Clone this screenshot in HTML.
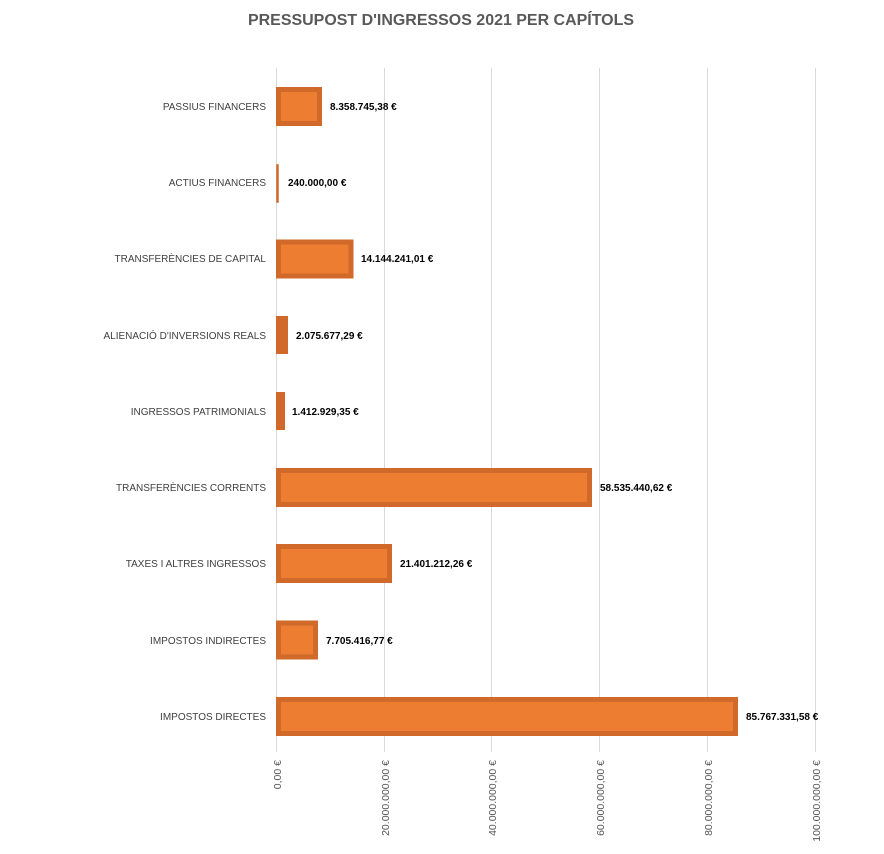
<!DOCTYPE html>
<html><head><meta charset="utf-8"><style>
body{margin:0;background:#fff;}
svg{display:block;font-family:"Liberation Sans",sans-serif;}
</style></head><body>
<svg width="884" height="854" viewBox="0 0 884 854">
<text x="441" y="25" text-anchor="middle" font-size="16" font-weight="bold" fill="#595959" textLength="386" lengthAdjust="spacingAndGlyphs">PRESSUPOST D'INGRESSOS 2021 PER CAPÍTOLS</text>
<g stroke="#d9d9d9" stroke-width="1">
<line x1="276.5" y1="68" x2="276.5" y2="752"/>
<line x1="384.5" y1="68" x2="384.5" y2="752"/>
<line x1="491.5" y1="68" x2="491.5" y2="752"/>
<line x1="599.5" y1="68" x2="599.5" y2="752"/>
<line x1="707.5" y1="68" x2="707.5" y2="752"/>
<line x1="815.5" y1="68" x2="815.5" y2="752"/>
</g>
<g font-size="10.5" fill="#595959">
<text transform="translate(281,760) rotate(-90)" text-anchor="end">0,00 €</text>
<text transform="translate(389,760) rotate(-90)" text-anchor="end">20.000.000,00 €</text>
<text transform="translate(496,760) rotate(-90)" text-anchor="end">40.000.000,00 €</text>
<text transform="translate(604,760) rotate(-90)" text-anchor="end">60.000.000,00 €</text>
<text transform="translate(712,760) rotate(-90)" text-anchor="end">80.000.000,00 €</text>
<text transform="translate(820,760) rotate(-90)" text-anchor="end">100.000.000,00 €</text>
</g>
<g font-size="10" fill="#404040" text-anchor="end">
<text x="266" y="110">PASSIUS FINANCERS</text>
<text x="266" y="186">ACTIUS FINANCERS</text>
<text x="266" y="262">TRANSFERÈNCIES DE CAPITAL</text>
<text x="266" y="339">ALIENACIÓ D'INVERSIONS REALS</text>
<text x="266" y="415">INGRESSOS PATRIMONIALS</text>
<text x="266" y="491">TRANSFERÈNCIES CORRENTS</text>
<text x="266" y="567">TAXES I ALTRES INGRESSOS</text>
<text x="266" y="644">IMPOSTOS INDIRECTES</text>
<text x="266" y="720">IMPOSTOS DIRECTES</text>
</g>
<g fill="#ED7D31" stroke="#D0692A" stroke-width="5">
<rect x="278.5" y="89.5" width="41" height="34"/>
<rect x="277" y="165" width="1" height="37" stroke-width="1.5"/>
<rect x="278.5" y="242" width="72.5" height="34"/>
<rect x="276" y="316" width="12" height="38" stroke="none" fill="#D0692A"/>
<rect x="276" y="392" width="9" height="38" stroke="none" fill="#D0692A"/>
<rect x="278.5" y="470.5" width="311" height="34"/>
<rect x="278.5" y="546.5" width="111" height="34"/>
<rect x="278.5" y="623" width="37" height="34"/>
<rect x="278.5" y="699.5" width="457" height="34"/>
</g>
<g font-size="10" font-weight="bold" fill="#000">
<text x="330" y="110">8.358.745,38 €</text>
<text x="288" y="186">240.000,00 €</text>
<text x="361" y="262">14.144.241,01 €</text>
<text x="296" y="339">2.075.677,29 €</text>
<text x="292" y="415">1.412.929,35 €</text>
<text x="600" y="491">58.535.440,62 €</text>
<text x="400" y="567">21.401.212,26 €</text>
<text x="326" y="644">7.705.416,77 €</text>
<text x="746" y="720">85.767.331,58 €</text>
</g>
</svg>
</body></html>
